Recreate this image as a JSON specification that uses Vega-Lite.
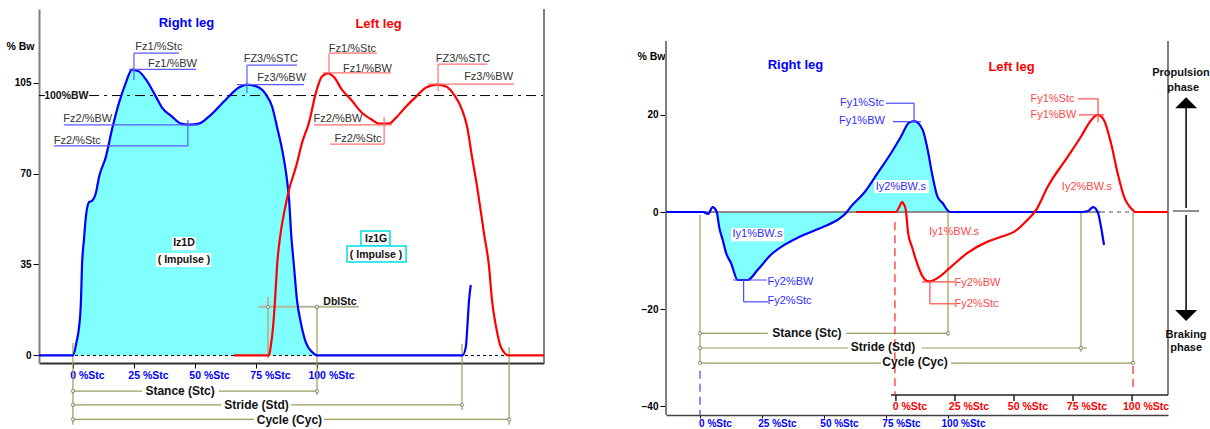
{
  "$schema": "https://vega.github.io/schema/vega-lite/v6.json",
  "padding": {"left": 5, "top": 8, "right": 0, "bottom": 0},
  "spacing": 87,
  "config": {"view": {"stroke": null}, "font": "Liberation Sans"},
  "datasets": {
    "curvesL": [
      {"s":"R","x":-13.9,"y":0},{"s":"R","x":0,"y":0},{"s":"R","x":1.6,"y":5.8},{"s":"R","x":2.5,"y":10.8},{"s":"R","x":3.3,"y":21.2},{"s":"R","x":3.7,"y":34},{"s":"R","x":4.5,"y":44.4},{"s":"R","x":5.3,"y":53.3},{"s":"R","x":6.6,"y":59},{"s":"R","x":7.8,"y":59.5},{"s":"R","x":9.4,"y":62.5},{"s":"R","x":10.7,"y":68.7},{"s":"R","x":13.5,"y":76.4},{"s":"R","x":16,"y":86.9},{"s":"R","x":18.9,"y":97.3},{"s":"R","x":21.7,"y":105},{"s":"R","x":24.2,"y":110},{"s":"R","x":27,"y":109.3},{"s":"R","x":29.9,"y":106.2},{"s":"R","x":34,"y":99.6},{"s":"R","x":36.5,"y":95.4},{"s":"R","x":40.6,"y":91.9},{"s":"R","x":44.3,"y":89.2},{"s":"R","x":47.5,"y":88.8},{"s":"R","x":51.6,"y":89.2},{"s":"R","x":55.7,"y":91.9},{"s":"R","x":62.7,"y":98.5},{"s":"R","x":68,"y":103.1},{"s":"R","x":71.3,"y":104.2},{"s":"R","x":76.2,"y":103.1},{"s":"R","x":79.1,"y":100.4},{"s":"R","x":81.6,"y":95.8},{"s":"R","x":83.6,"y":88},{"s":"R","x":85.7,"y":79.2},{"s":"R","x":87.5,"y":69},{"s":"R","x":88.6,"y":59.5},{"s":"R","x":89.4,"y":47},{"s":"R","x":90.6,"y":34},{"s":"R","x":91.8,"y":21.3},{"s":"R","x":93.4,"y":12.5},{"s":"R","x":95.5,"y":4.8},{"s":"R","x":98,"y":1.3},{"s":"R","x":100,"y":0},{"s":"R","x":159.6,"y":0},{"s":"R","x":161,"y":3.4},{"s":"R","x":161.6,"y":11.1},{"s":"R","x":162.3,"y":21.3},{"s":"R","x":163,"y":27.1},
      {"s":"L","x":66,"y":0},{"s":"L","x":80.3,"y":0},{"s":"L","x":81,"y":3.2},{"s":"L","x":82,"y":10.9},{"s":"L","x":82.8,"y":21.2},{"s":"L","x":83.6,"y":34},{"s":"L","x":85.1,"y":47.1},{"s":"L","x":86.5,"y":54.8},{"s":"L","x":88.5,"y":63.7},{"s":"L","x":91.4,"y":72.6},{"s":"L","x":93.9,"y":81.9},{"s":"L","x":96.7,"y":89.6},{"s":"L","x":99.6,"y":101.2},{"s":"L","x":102,"y":107.3},{"s":"L","x":104.5,"y":108.5},{"s":"L","x":107,"y":107},{"s":"L","x":110.2,"y":102.3},{"s":"L","x":113.9,"y":98.5},{"s":"L","x":118,"y":93.8},{"s":"L","x":122.5,"y":90.7},{"s":"L","x":125.4,"y":89.2},{"s":"L","x":129.5,"y":89.2},{"s":"L","x":132.4,"y":91.5},{"s":"L","x":136.5,"y":95.8},{"s":"L","x":140.6,"y":99.6},{"s":"L","x":144.7,"y":103.1},{"s":"L","x":149.2,"y":104.2},{"s":"L","x":152.9,"y":103.5},{"s":"L","x":156.1,"y":100.4},{"s":"L","x":159.4,"y":94.6},{"s":"L","x":161.5,"y":88},{"s":"L","x":163.5,"y":76.4},{"s":"L","x":165.6,"y":64.9},{"s":"L","x":167.2,"y":54.8},{"s":"L","x":168.4,"y":47.1},{"s":"L","x":170.5,"y":34},{"s":"L","x":171.7,"y":21.2},{"s":"L","x":173.4,"y":10.8},{"s":"L","x":175.4,"y":3.1},{"s":"L","x":178.7,"y":0},{"s":"L","x":193,"y":0}
    ],
    "rulesL": [
      {"k":"bn","x":25,"x2":43.4,"y":116.3,"y2":116.3},{"k":"bn","x":25,"x2":25,"y":116.3,"y2":106},{"k":"bn","x":23,"x2":50.4,"y":110.1,"y2":110.1},{"k":"bn","x":71.3,"x2":91.8,"y":111.7,"y2":111.7},{"k":"bn","x":71.3,"x2":71.3,"y":111.7,"y2":101},{"k":"bn","x":67.2,"x2":94.7,"y":104.2,"y2":104.2},{"k":"bn","x":-3.7,"x2":51.6,"y":88.7,"y2":88.7},{"k":"bn","x":-7.8,"x2":47.1,"y":80.6,"y2":80.6},{"k":"bn","x":47.1,"x2":47.1,"y":90.6,"y2":80.6},
      {"k":"rn","x":104.9,"x2":124.6,"y":116.3,"y2":116.3},{"k":"rn","x":104.9,"x2":104.9,"y":116.3,"y2":108.7},{"k":"rn","x":102.5,"x2":130.3,"y":108.7,"y2":108.7},{"k":"rn","x":149.6,"x2":169.7,"y":112.1,"y2":112.1},{"k":"rn","x":149.6,"x2":149.6,"y":112.1,"y2":101.7},{"k":"rn","x":145.5,"x2":180.7,"y":104.4,"y2":104.4},{"k":"rn","x":98.8,"x2":130.7,"y":88.7,"y2":88.7},{"k":"rn","x":105.3,"x2":127.5,"y":81.3,"y2":81.3},{"k":"rn","x":127.5,"x2":127.5,"y":91.7,"y2":81.3},
      {"k":"ol","x":0,"x2":28.3,"y":-13.7,"y2":-13.7},{"k":"ol","x":59.8,"x2":100,"y":-13.7,"y2":-13.7},{"k":"ol","x":0,"x2":60.7,"y":-19,"y2":-19},{"k":"ol","x":89.3,"x2":159.4,"y":-19,"y2":-19},{"k":"ol","x":0,"x2":74.2,"y":-24.6,"y2":-24.6},{"k":"ol","x":102.9,"x2":178.7,"y":-24.6,"y2":-24.6},{"k":"ol","x":0,"x2":0,"y":4.8,"y2":-26.7},{"k":"ol","x":159.4,"x2":159.4,"y":4.4,"y2":-21},{"k":"ol","x":178.7,"x2":178.7,"y":3.3,"y2":-26.7},{"k":"ol","x":100,"x2":100,"y":18.7,"y2":-15.2},
      {"k":"lo","x":76.2,"x2":117.2,"y":18.7,"y2":18.7},{"k":"lo","x":79.9,"x2":79.9,"y":22.5,"y2":-1},
      {"k":"dd","x":6.6,"x2":193,"y":100,"y2":100},{"k":"dd","x":-13.9,"x2":-11.5,"y":100,"y2":100},
      {"k":"db","x":-13.9,"x2":193,"y":0,"y2":0},
      {"k":"fr","x":193,"x2":193,"y":-2.9,"y2":133.3}
    ],
    "ptsL": [
      {"x":0,"y":-13.7},{"x":100,"y":-13.7},{"x":0,"y":-19},{"x":159.4,"y":-19},{"x":0,"y":-24.6},{"x":178.7,"y":-24.6},{"x":79.9,"y":18.7},{"x":100,"y":18.7}
    ],
    "boxL": [
      {"k":"w","x":40.6,"x2":50.4,"y":45.6,"y2":40.6},{"k":"w","x":34,"x2":56.6,"y":39.4,"y2":34},{"k":"c","x":118,"x2":129.9,"y":47.9,"y2":42.1},{"k":"c","x":112.3,"x2":136.5,"y":42.1,"y2":36}
    ],
    "textL": [
      {"k":"n","t":"Fz1/%Stc","x":35.2,"y":118.7},{"k":"n","t":"Fz1/%BW","x":40.8,"y":112.1},{"k":"n","t":"FZ3/%STC","x":81.1,"y":114},{"k":"n","t":"Fz3/%BW","x":85.5,"y":106.7},{"k":"n","t":"Fz2/%BW","x":6.1,"y":91},{"k":"n","t":"Fz2/%Stc","x":1.8,"y":82.5},
      {"k":"n","t":"Fz1/%Stc","x":114.5,"y":117.9},{"k":"n","t":"Fz1/%BW","x":120.7,"y":110.2},{"k":"n","t":"FZ3/%STC","x":159.8,"y":114},{"k":"n","t":"Fz3/%BW","x":170.3,"y":107.1},{"k":"n","t":"Fz2/%BW","x":108.6,"y":91},{"k":"n","t":"Fz2/%Stc","x":116.8,"y":83.3},
      {"k":"b12","t":"Stance (Stc)","x":43.9,"y":-13.7},{"k":"b12","t":"Stride (Std)","x":75.2,"y":-19},{"k":"b12","t":"Cycle (Cyc)","x":88.7,"y":-24.8},
      {"k":"b10","t":"100%BW","x":-2.7,"y":99.8},{"k":"b10","t":"Iz1D","x":45.5,"y":43.1},{"k":"b10","t":"( Impulse )","x":45.5,"y":36.7},{"k":"b10","t":"Iz1G","x":124.2,"y":44.8},{"k":"b10","t":"( Impulse )","x":124.2,"y":38.7},{"k":"b10","t":"DblStc","x":109.4,"y":20.6},
      {"k":"tb","t":"Right leg","x":46.5,"y":127.9},{"k":"tr","t":"Left leg","x":125.2,"y":127.5}
    ],
    "curvesR": [
      {"s":"R","x":-13.7,"y":0},{"s":"R","x":1.2,"y":0},{"s":"R","x":3.3,"y":-0.4},{"s":"R","x":5.1,"y":1.0},{"s":"R","x":6.5,"y":0.3},{"s":"R","x":6.9,"y":-0.3},{"s":"R","x":7.7,"y":-3},{"s":"R","x":9.2,"y":-5.8},{"s":"R","x":10.5,"y":-8.4},{"s":"R","x":12.5,"y":-10.5},{"s":"R","x":15.2,"y":-14},{"s":"R","x":19.2,"y":-14},{"s":"R","x":23.3,"y":-11.9},{"s":"R","x":28.6,"y":-8.8},{"s":"R","x":33.9,"y":-6.8},{"s":"R","x":39.4,"y":-5.3},{"s":"R","x":44.8,"y":-4.1},{"s":"R","x":50,"y":-3},{"s":"R","x":55.5,"y":-1.6},{"s":"R","x":58.9,"y":-0.2},{"s":"R","x":61,"y":1.2},{"s":"R","x":66.1,"y":3.9},{"s":"R","x":71.6,"y":8},{"s":"R","x":77,"y":12.1},{"s":"R","x":81,"y":15.5},{"s":"R","x":84.3,"y":18.4},{"s":"R","x":86.4,"y":18.7},{"s":"R","x":89.8,"y":16.9},{"s":"R","x":91.8,"y":12.8},{"s":"R","x":93.8,"y":7.3},{"s":"R","x":95.8,"y":3.1},{"s":"R","x":97.9,"y":1.8},{"s":"R","x":99.9,"y":0.3},{"s":"R","x":101,"y":0},{"s":"R","x":153.6,"y":0},{"s":"R","x":156.5,"y":0.2},{"s":"R","x":158.5,"y":1.0},{"s":"R","x":160.5,"y":-0.2},{"s":"R","x":161.7,"y":-3.1},{"s":"R","x":162.9,"y":-6.8},
      {"s":"L","x":62.9,"y":0},{"s":"L","x":79,"y":0},{"s":"L","x":80.5,"y":1.2},{"s":"L","x":81.5,"y":2.1},{"s":"L","x":82.3,"y":1.5},{"s":"L","x":83,"y":0.4},{"s":"L","x":83.9,"y":-4.3},{"s":"L","x":85.5,"y":-7.2},{"s":"L","x":87.1,"y":-9.9},{"s":"L","x":89.8,"y":-13.3},{"s":"L","x":92.3,"y":-14.3},{"s":"L","x":95.8,"y":-13.6},{"s":"L","x":101.2,"y":-11.3},{"s":"L","x":107.9,"y":-8.4},{"s":"L","x":116,"y":-6.1},{"s":"L","x":121.4,"y":-5.1},{"s":"L","x":126.6,"y":-4.1},{"s":"L","x":132.1,"y":-1.6},{"s":"L","x":135.5,"y":0.4},{"s":"L","x":140.2,"y":5.2},{"s":"L","x":148.3,"y":11.4},{"s":"L","x":153.6,"y":15.5},{"s":"L","x":157.7,"y":18.9},{"s":"L","x":160.4,"y":20},{"s":"L","x":162.9,"y":18.9},{"s":"L","x":165.7,"y":14.2},{"s":"L","x":168.4,"y":8},{"s":"L","x":171,"y":3.1},{"s":"L","x":174.5,"y":0.4},{"s":"L","x":175.5,"y":0},{"s":"L","x":188.6,"y":0}
    ],
    "rulesR": [
      {"k":"bn","x":75,"x2":86.3,"y":22.4,"y2":22.4},{"k":"bn","x":86.3,"x2":86.3,"y":22.4,"y2":18.6},{"k":"bn","x":77.8,"x2":89.1,"y":18.6,"y2":18.6},{"k":"bn","x":13.3,"x2":27,"y":-14,"y2":-14},{"k":"bn","x":17.6,"x2":17.6,"y":-14,"y2":-18.5},{"k":"bn","x":17.6,"x2":27.4,"y":-18.5,"y2":-18.5},
      {"k":"rn","x":152.4,"x2":160.5,"y":23.3,"y2":23.3},{"k":"rn","x":160.5,"x2":160.5,"y":23.3,"y2":18.5},{"k":"rn","x":152.8,"x2":162.9,"y":20,"y2":20},{"k":"rn","x":89.5,"x2":102.8,"y":-14.4,"y2":-14.4},{"k":"rn","x":92.7,"x2":92.7,"y":-14.4,"y2":-18.9},{"k":"rn","x":92.7,"x2":102.8,"y":-18.9,"y2":-18.9},
      {"k":"ol","x":0,"x2":0,"y":-0.6,"y2":-31.1},{"k":"ol","x":0,"x2":27.4,"y":-25,"y2":-25},{"k":"ol","x":58.9,"x2":100,"y":-25,"y2":-25},{"k":"ol","x":0,"x2":59.7,"y":-28,"y2":-28},{"k":"ol","x":89.5,"x2":156,"y":-28,"y2":-28},{"k":"ol","x":0,"x2":73,"y":-31.1,"y2":-31.1},{"k":"ol","x":101.2,"x2":174.6,"y":-31.1,"y2":-31.1},{"k":"ol","x":100,"x2":100,"y":-0.2,"y2":-25.5},{"k":"ol","x":153.6,"x2":153.6,"y":-0.2,"y2":-28.8},{"k":"ol","x":174.6,"x2":174.6,"y":-0.2,"y2":-31.1},
      {"k":"bd","x":0,"x2":0,"y":-32.7,"y2":-41.8},
      {"k":"rd","x":78.6,"x2":78.6,"y":-2.1,"y2":-37.7},{"k":"rd","x":174.6,"x2":174.6,"y":-31.7,"y2":-37.1},
      {"k":"gr","x":-13.7,"x2":161.7,"y":0,"y2":0},{"k":"gr","x":190.7,"x2":201.2,"y":0.2,"y2":0.2},
      {"k":"gd","x":161.7,"x2":175,"y":0,"y2":0},
      {"k":"fr","x":-13.7,"x2":-13.7,"y":-41.8,"y2":35.2},{"k":"fr","x":188.7,"x2":188.7,"y":-37.7,"y2":35.2},
      {"k":"ax","x":77,"x2":188.7,"y":-37.7,"y2":-37.7},{"k":"ax","x":79,"x2":79,"y":-37.7,"y2":-38.9},{"k":"ax","x":102.8,"x2":102.8,"y":-37.7,"y2":-38.9},{"k":"ax","x":126.6,"x2":126.6,"y":-37.7,"y2":-38.9},{"k":"ax","x":150.4,"x2":150.4,"y":-37.7,"y2":-38.9},{"k":"ax","x":174.2,"x2":174.2,"y":-37.7,"y2":-38.9},
      {"k":"ar","x":196,"x2":196,"y":21.6,"y2":0.8},{"k":"ar","x":196,"x2":196,"y":-0.6,"y2":-20.2}
    ],
    "ptsR": [
      {"x":0,"y":-25},{"x":100,"y":-25},{"x":0,"y":-28},{"x":153.6,"y":-28},{"x":0,"y":-31.1},{"x":174.6,"y":-31.1}
    ],
    "triR": [
      {"k":"up","x":196,"y":22.5},{"k":"down","x":196,"y":-21.3}
    ],
    "boxR": [
      {"x":12.5,"x2":33.9,"y":-3.3,"y2":-6},{"x":70.2,"x2":92.3,"y":6.6,"y2":3.9}
    ],
    "textR": [
      {"k":"bn","t":"Fy1%Stc","x":65.3,"y":22.4},{"k":"bn","t":"Fy1%BW","x":65.3,"y":18.7},{"k":"bn","t":"Iy2%BW.s","x":81,"y":5.2},{"k":"bn","t":"Iy1%BW.s","x":23.2,"y":-4.6},{"k":"bn","t":"Fy2%BW","x":36.5,"y":-14.4},{"k":"bn","t":"Fy2%Stc","x":36.1,"y":-18.3},
      {"k":"rn","t":"Fy1%Stc","x":142.1,"y":23.3},{"k":"rn","t":"Fy1%BW","x":142.5,"y":20},{"k":"rn","t":"Iy2%BW.s","x":156,"y":5.1},{"k":"rn","t":"Iy1%BW.s","x":102.4,"y":-4.1},{"k":"rn","t":"Fy2%BW","x":111.9,"y":-14.6},{"k":"rn","t":"Fy2%Stc","x":111.5,"y":-18.9},
      {"k":"b12","t":"Stance (Stc)","x":43.1,"y":-24.9},{"k":"b12","t":"Stride (Std)","x":73.8,"y":-27.8},{"k":"b12","t":"Cycle (Cyc)","x":86.7,"y":-30.9},
      {"k":"b11","t":"Propulsion","x":193.9,"y":28.6},{"k":"b11","t":"phase","x":194.8,"y":25.5},{"k":"b11","t":"Braking","x":196,"y":-25.3},{"k":"b11","t":"phase","x":196,"y":-28},
      {"k":"tb","t":"Right leg","x":38.5,"y":30.2},{"k":"tr","t":"Left leg","x":125.6,"y":29.8}
    ],
    "redAxis": [
      {"x":79,"y":-40.1,"t":"0 %Stc"},{"x":102.8,"y":-40.1,"t":"25 %Stc"},{"x":126.6,"y":-40.1,"t":"50 %Stc"},{"x":150.4,"y":-40.1,"t":"75 %Stc"},{"x":174.2,"y":-40.1,"t":"100 %Stc"}
    ]
  },
  "hconcat": [
    {
      "width": 505,
      "height": 354,
      "encoding": {
        "x": {"field": "x", "type": "quantitative", "scale": {"domain": [-13.9, 193], "nice": false, "zero": false},
          "axis": {"values": [0, 25, 50, 75, 100], "labelExpr": "datum.value + ' %Stc'", "labelColor": "#0000ff", "labelFontWeight": "bold", "labelFontSize": 10.5, "labelOffset": 14, "labelPadding": 2, "labelBound": false, "labelFlush": false, "labelOverlap": false, "domainColor": "#303030", "domainWidth": 2, "tickColor": "#000000", "tickSize": 5, "grid": false, "title": null}},
        "y": {"field": "y", "type": "quantitative", "scale": {"domain": [-2.9, 133.3], "nice": false, "zero": false},
          "axis": {"values": [0, 35, 70, 105], "labelFontWeight": "bold", "labelFontSize": 10, "labelColor": "#000000", "labelPadding": 2, "tickColor": "#000000", "tickSize": 6, "domainColor": "#808080", "domainWidth": 2, "grid": false, "title": "% Bw", "titleAngle": 0, "titleX": -19, "titleY": 37, "titleAlign": "center", "titleBaseline": "middle", "titleFontWeight": "bold", "titleFontSize": 10.5, "titleColor": "#000000"}}
      },
      "layer": [
        {"data": {"name": "curvesL"}, "transform": [{"filter": "datum.s == 'R' && datum.x >= 0 && datum.x <= 100"}], "mark": {"type": "area", "color": "#80ffff", "opacity": 1}, "encoding": {"y2": {"datum": 0}}},
        {"data": {"name": "boxL"}, "transform": [{"filter": "datum.k == 'w'"}], "mark": {"type": "rect", "fill": "#ffffff"}, "encoding": {"x2": {"field": "x2"}, "y2": {"field": "y2"}}},
        {"data": {"name": "boxL"}, "transform": [{"filter": "datum.k == 'c'"}], "mark": {"type": "rect", "fill": "#ffffff", "stroke": "#00dede", "strokeWidth": 1.5}, "encoding": {"x2": {"field": "x2"}, "y2": {"field": "y2"}}},
        {"data": {"name": "rulesL"}, "transform": [{"filter": "datum.k == 'db'"}], "mark": {"type": "rule", "color": "#000000", "strokeWidth": 1, "strokeDash": [3, 3]}, "encoding": {"x2": {"field": "x2"}, "y2": {"field": "y2"}}},
        {"data": {"name": "rulesL"}, "transform": [{"filter": "datum.k == 'dd'"}], "mark": {"type": "rule", "color": "#000000", "strokeWidth": 1, "strokeDash": [10, 5, 3, 5]}, "encoding": {"x2": {"field": "x2"}, "y2": {"field": "y2"}}},
        {"data": {"name": "rulesL"}, "transform": [{"filter": "datum.k == 'fr'"}], "mark": {"type": "rule", "color": "#808080", "strokeWidth": 2}, "encoding": {"x2": {"field": "x2"}, "y2": {"field": "y2"}}},
        {"data": {"name": "rulesL"}, "transform": [{"filter": "datum.k == 'lo'"}], "mark": {"type": "rule", "color": "#b4b99c", "strokeWidth": 2}, "encoding": {"x2": {"field": "x2"}, "y2": {"field": "y2"}}},
        {"data": {"name": "rulesL"}, "transform": [{"filter": "datum.k == 'ol'"}], "mark": {"type": "rule", "color": "#9c9c5c", "strokeWidth": 1.2}, "encoding": {"x2": {"field": "x2"}, "y2": {"field": "y2"}}},
        {"data": {"name": "curvesL"}, "mark": {"type": "line", "strokeWidth": 2.2, "interpolate": "monotone"}, "encoding": {"detail": {"field": "s"}, "color": {"field": "s", "type": "nominal", "scale": {"domain": ["R", "L"], "range": ["#0000ff", "#ff0000"]}, "legend": null}}},
        {"data": {"name": "rulesL"}, "transform": [{"filter": "datum.k == 'bn'"}], "mark": {"type": "rule", "color": "#5a5aff", "strokeWidth": 1.2}, "encoding": {"x2": {"field": "x2"}, "y2": {"field": "y2"}}},
        {"data": {"name": "rulesL"}, "transform": [{"filter": "datum.k == 'rn'"}], "mark": {"type": "rule", "color": "#ff6e6e", "strokeWidth": 1.2}, "encoding": {"x2": {"field": "x2"}, "y2": {"field": "y2"}}},
        {"data": {"name": "ptsL"}, "mark": {"type": "point", "shape": "circle", "size": 12, "filled": true, "fill": "#ffffff", "stroke": "#707060", "strokeWidth": 1}},
        {"data": {"name": "textL"}, "transform": [{"filter": "datum.k == 'n'"}], "mark": {"type": "text", "fontSize": 11, "color": "#333333", "align": "center", "baseline": "middle"}, "encoding": {"text": {"field": "t"}}},
        {"data": {"name": "textL"}, "transform": [{"filter": "datum.k == 'b12'"}], "mark": {"type": "text", "fontSize": 12, "fontWeight": "bold", "color": "#111111", "align": "center", "baseline": "middle"}, "encoding": {"text": {"field": "t"}}},
        {"data": {"name": "textL"}, "transform": [{"filter": "datum.k == 'b10'"}], "mark": {"type": "text", "fontSize": 10.5, "fontWeight": "bold", "color": "#111111", "align": "center", "baseline": "middle"}, "encoding": {"text": {"field": "t"}}},
        {"data": {"name": "textL"}, "transform": [{"filter": "datum.k == 'tb'"}], "mark": {"type": "text", "fontSize": 13, "fontWeight": "bold", "color": "#0000ff", "align": "center", "baseline": "middle"}, "encoding": {"text": {"field": "t"}}},
        {"data": {"name": "textL"}, "transform": [{"filter": "datum.k == 'tr'"}], "mark": {"type": "text", "fontSize": 13, "fontWeight": "bold", "color": "#ff0000", "align": "center", "baseline": "middle"}, "encoding": {"text": {"field": "t"}}}
      ]
    },
    {
      "width": 502,
      "height": 406,
      "encoding": {
        "x": {"field": "x", "type": "quantitative", "scale": {"domain": [-13.7, 188.7], "nice": false, "zero": false},
          "axis": {"values": [0, 25, 50, 75, 100], "labelExpr": "datum.value + ' %Stc'", "labelColor": "#0000ff", "labelFontWeight": "bold", "labelFontSize": 10, "labelOffset": 15, "labelPadding": 0, "labelBound": false, "labelFlush": false, "labelOverlap": false, "domainColor": "#404040", "domainWidth": 1.5, "tickColor": "#000000", "tickSize": 3, "grid": false, "title": null}},
        "y": {"field": "y", "type": "quantitative", "scale": {"domain": [-41.8, 41.8], "nice": false, "zero": false},
          "axis": {"values": [20, 0, -20, -40], "labelFontWeight": "bold", "labelFontSize": 10, "labelColor": "#000000", "labelPadding": 2, "tickColor": "#000000", "tickSize": 6, "domain": false, "grid": false, "title": "% Bw", "titleAngle": 0, "titleX": -15, "titleY": 47, "titleAlign": "center", "titleBaseline": "middle", "titleFontWeight": "bold", "titleFontSize": 10.5, "titleColor": "#000000"}}
      },
      "layer": [
        {"data": {"name": "curvesR"}, "transform": [{"filter": "datum.s == 'R' && datum.x >= 6.4 && datum.x <= 101"}], "mark": {"type": "area", "color": "#80ffff", "opacity": 1, "interpolate": "monotone"}, "encoding": {"y2": {"datum": 0}}},
        {"data": {"name": "boxR"}, "mark": {"type": "rect", "fill": "#ffffff"}, "encoding": {"x2": {"field": "x2"}, "y2": {"field": "y2"}}},
        {"data": {"name": "rulesR"}, "transform": [{"filter": "datum.k == 'gr'"}], "mark": {"type": "rule", "color": "#8c8c8c", "strokeWidth": 2}, "encoding": {"x2": {"field": "x2"}, "y2": {"field": "y2"}}},
        {"data": {"name": "rulesR"}, "transform": [{"filter": "datum.k == 'gd'"}], "mark": {"type": "rule", "color": "#8c8c8c", "strokeWidth": 1.5, "strokeDash": [4, 4]}, "encoding": {"x2": {"field": "x2"}, "y2": {"field": "y2"}}},
        {"data": {"name": "rulesR"}, "transform": [{"filter": "datum.k == 'fr'"}], "mark": {"type": "rule", "color": "#808080", "strokeWidth": 2}, "encoding": {"x2": {"field": "x2"}, "y2": {"field": "y2"}}},
        {"data": {"name": "rulesR"}, "transform": [{"filter": "datum.k == 'ax'"}], "mark": {"type": "rule", "color": "#202020", "strokeWidth": 1.5}, "encoding": {"x2": {"field": "x2"}, "y2": {"field": "y2"}}},
        {"data": {"name": "rulesR"}, "transform": [{"filter": "datum.k == 'ar'"}], "mark": {"type": "rule", "color": "#000000", "strokeWidth": 1.5}, "encoding": {"x2": {"field": "x2"}, "y2": {"field": "y2"}}},
        {"data": {"name": "rulesR"}, "transform": [{"filter": "datum.k == 'ol'"}], "mark": {"type": "rule", "color": "#9c9c5c", "strokeWidth": 1.2}, "encoding": {"x2": {"field": "x2"}, "y2": {"field": "y2"}}},
        {"data": {"name": "rulesR"}, "transform": [{"filter": "datum.k == 'bd'"}], "mark": {"type": "rule", "color": "#4040ff", "strokeWidth": 1.2, "strokeDash": [8, 5]}, "encoding": {"x2": {"field": "x2"}, "y2": {"field": "y2"}}},
        {"data": {"name": "rulesR"}, "transform": [{"filter": "datum.k == 'rd'"}], "mark": {"type": "rule", "color": "#ff2020", "strokeWidth": 1.2, "strokeDash": [8, 5]}, "encoding": {"x2": {"field": "x2"}, "y2": {"field": "y2"}}},
        {"data": {"name": "curvesR"}, "mark": {"type": "line", "strokeWidth": 2.2, "interpolate": "monotone"}, "encoding": {"detail": {"field": "s"}, "color": {"field": "s", "type": "nominal", "scale": {"domain": ["R", "L"], "range": ["#0000ff", "#ff0000"]}, "legend": null}}},
        {"data": {"name": "rulesR"}, "transform": [{"filter": "datum.k == 'bn'"}], "mark": {"type": "rule", "color": "#4848ff", "strokeWidth": 1.2}, "encoding": {"x2": {"field": "x2"}, "y2": {"field": "y2"}}},
        {"data": {"name": "rulesR"}, "transform": [{"filter": "datum.k == 'rn'"}], "mark": {"type": "rule", "color": "#ff4848", "strokeWidth": 1.2}, "encoding": {"x2": {"field": "x2"}, "y2": {"field": "y2"}}},
        {"data": {"name": "ptsR"}, "mark": {"type": "point", "shape": "circle", "size": 12, "filled": true, "fill": "#ffffff", "stroke": "#707060", "strokeWidth": 1}},
        {"data": {"name": "triR"}, "transform": [{"filter": "datum.k == 'up'"}], "mark": {"type": "point", "shape": "M-1,0.5L1,0.5L0,-0.5Z", "size": 484, "filled": true, "color": "#000000", "opacity": 1}},
        {"data": {"name": "triR"}, "transform": [{"filter": "datum.k == 'down'"}], "mark": {"type": "point", "shape": "M-1,-0.5L1,-0.5L0,0.5Z", "size": 484, "filled": true, "color": "#000000", "opacity": 1}},
        {"data": {"name": "textR"}, "transform": [{"filter": "datum.k == 'bn'"}], "mark": {"type": "text", "fontSize": 11, "color": "#3030ff", "align": "center", "baseline": "middle"}, "encoding": {"text": {"field": "t"}}},
        {"data": {"name": "textR"}, "transform": [{"filter": "datum.k == 'rn'"}], "mark": {"type": "text", "fontSize": 11, "color": "#ff4a4a", "align": "center", "baseline": "middle"}, "encoding": {"text": {"field": "t"}}},
        {"data": {"name": "textR"}, "transform": [{"filter": "datum.k == 'b12'"}], "mark": {"type": "text", "fontSize": 12, "fontWeight": "bold", "color": "#111111", "align": "center", "baseline": "middle"}, "encoding": {"text": {"field": "t"}}},
        {"data": {"name": "textR"}, "transform": [{"filter": "datum.k == 'b11'"}], "mark": {"type": "text", "fontSize": 11, "fontWeight": "bold", "color": "#111111", "align": "center", "baseline": "middle"}, "encoding": {"text": {"field": "t"}}},
        {"data": {"name": "textR"}, "transform": [{"filter": "datum.k == 'tb'"}], "mark": {"type": "text", "fontSize": 13, "fontWeight": "bold", "color": "#0000ff", "align": "center", "baseline": "middle"}, "encoding": {"text": {"field": "t"}}},
        {"data": {"name": "textR"}, "transform": [{"filter": "datum.k == 'tr'"}], "mark": {"type": "text", "fontSize": 13, "fontWeight": "bold", "color": "#ff0000", "align": "center", "baseline": "middle"}, "encoding": {"text": {"field": "t"}}},
        {"data": {"name": "redAxis"}, "mark": {"type": "text", "fontSize": 10.5, "fontWeight": "bold", "color": "#ff0000", "align": "center", "baseline": "middle", "dx": 14}, "encoding": {"text": {"field": "t"}}}
      ]
    }
  ]
}
